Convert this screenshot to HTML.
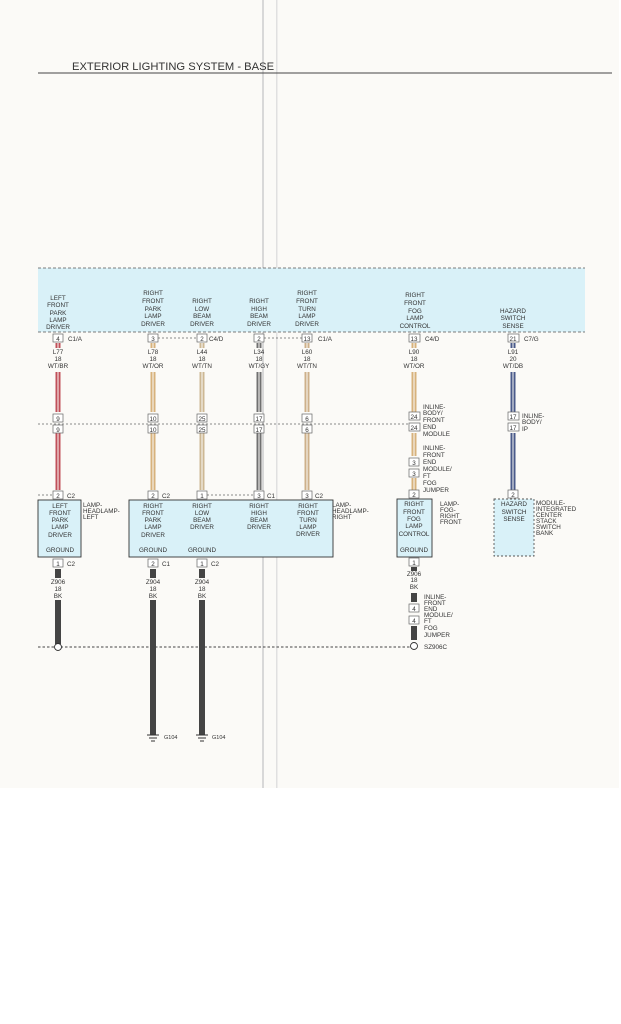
<!DOCTYPE html>
<html><head><meta charset="utf-8"><style>
html,body{margin:0;padding:0;background:#fff;}
svg{display:block;}
text{font-family:"Liberation Sans",sans-serif;fill:#333;}
.l{font-size:6.3px;text-anchor:middle;}
.s{font-size:6.3px;}
</style></head><body>
<svg width="621" height="1024" viewBox="0 0 621 1024" xmlns="http://www.w3.org/2000/svg">
<rect x="0" y="0" width="619" height="788" fill="#fbfaf7"/>
<rect x="262" y="0" width="2" height="788" fill="#d8d8d8"/>
<rect x="276" y="0" width="1.5" height="788" fill="#e0e0e0"/>
<text x="72" y="70" style="font-size:11.2px;fill:#333">EXTERIOR LIGHTING SYSTEM - BASE</text>
<line x1="38" y1="73" x2="612" y2="73" stroke="#444" stroke-width="1"/>
<rect x="38" y="268" width="547" height="64" fill="#d9f1f8"/>
<line x1="38" y1="268" x2="585" y2="268" stroke="#555" stroke-dasharray="3,2" stroke-width="0.8"/>
<line x1="38" y1="332" x2="585" y2="332" stroke="#555" stroke-dasharray="3,2" stroke-width="0.8"/>
<g class="l">
<text x="58" y="300">LEFT</text><text x="58" y="307">FRONT</text><text x="58" y="315">PARK</text><text x="58" y="322">LAMP</text><text x="58" y="329">DRIVER</text>
<text x="153" y="295">RIGHT</text><text x="153" y="303">FRONT</text><text x="153" y="311">PARK</text><text x="153" y="318">LAMP</text><text x="153" y="326">DRIVER</text>
<text x="202" y="303">RIGHT</text><text x="202" y="311">LOW</text><text x="202" y="318">BEAM</text><text x="202" y="326">DRIVER</text>
<text x="259" y="303">RIGHT</text><text x="259" y="311">HIGH</text><text x="259" y="318">BEAM</text><text x="259" y="326">DRIVER</text>
<text x="307" y="295">RIGHT</text><text x="307" y="303">FRONT</text><text x="307" y="311">TURN</text><text x="307" y="318">LAMP</text><text x="307" y="326">DRIVER</text>
<text x="415" y="297">RIGHT</text><text x="415" y="305">FRONT</text><text x="415" y="313">FOG</text><text x="415" y="320">LAMP</text><text x="415" y="328">CONTROL</text>
<text x="513" y="313">HAZARD</text><text x="513" y="320">SWITCH</text><text x="513" y="328">SENSE</text>
</g>
<g fill="#fff" stroke="#666" stroke-width="0.7">
<rect x="53" y="334" width="10" height="8"/><rect x="148" y="334" width="10" height="8"/><rect x="197" y="334" width="10" height="8"/>
<rect x="254" y="334" width="10" height="8"/><rect x="302" y="334" width="10" height="8"/><rect x="409" y="334" width="11" height="8"/><rect x="508" y="334" width="11" height="8"/>
</g>
<g stroke="#666" stroke-width="0.7" stroke-dasharray="2,2"><line x1="158" y1="338" x2="197" y2="338"/><line x1="264" y1="338" x2="302" y2="338"/></g>
<g class="l"><text x="58" y="341">4</text><text x="153" y="341">3</text><text x="202" y="341">2</text><text x="259" y="341">2</text><text x="307" y="341">13</text><text x="414" y="341">13</text><text x="513" y="341">21</text></g>
<g class="s"><text x="68" y="341">C1/A</text><text x="209" y="341">C4/D</text><text x="318" y="341">C1/A</text><text x="425" y="341">C4/D</text><text x="524" y="341">C7/G</text></g>
<g class="l">
<text x="58" y="354">L77</text><text x="58" y="361">18</text><text x="58" y="368">WT/BR</text>
<text x="153" y="354">L78</text><text x="153" y="361">18</text><text x="153" y="368">WT/OR</text>
<text x="202" y="354">L44</text><text x="202" y="361">18</text><text x="202" y="368">WT/TN</text>
<text x="259" y="354">L34</text><text x="259" y="361">18</text><text x="259" y="368">WT/GY</text>
<text x="307" y="354">L60</text><text x="307" y="361">18</text><text x="307" y="368">WT/TN</text>
<text x="414" y="354">L90</text><text x="414" y="361">18</text><text x="414" y="368">WT/OR</text>
<text x="513" y="354">L91</text><text x="513" y="361">20</text><text x="513" y="368">WT/DB</text>
</g>
<g stroke-width="5">
<path d="M58 343V348M58 372V412M58 433V490" stroke="#c0505a"/>
<path d="M153 343V348M153 372V412M153 433V490" stroke="#d7b27c"/>
<path d="M202 343V348M202 372V412M202 433V490" stroke="#cdb894"/>
<path d="M259 343V348M259 372V412M259 433V490" stroke="#707070"/>
<path d="M307 343V348M307 372V412M307 433V490" stroke="#cdb08a"/>
<path d="M414 343V348M414 372V412M414 433V456M414 478V490" stroke="#d7b27c"/>
<path d="M513 343V348M513 372V412M513 433V490" stroke="#4a5a8a"/>
</g>
<g stroke="#fbfaf7" stroke-width="1">
<path d="M58 343V348M58 372V412M58 433V490M153 343V348M153 372V412M153 433V490M202 343V348M202 372V412M202 433V490M259 343V348M259 372V412M259 433V490M307 343V348M307 372V412M307 433V490M414 343V348M414 372V412M414 433V456M414 478V490M513 343V348M513 372V412M513 433V490"/>
</g>
<line x1="38" y1="424" x2="414" y2="424" stroke="#666" stroke-width="0.7" stroke-dasharray="2,2"/>
<g fill="#fff" stroke="#666" stroke-width="0.7">
<rect x="53" y="414" width="10" height="8"/><rect x="53" y="425" width="10" height="8"/>
<rect x="148" y="414" width="10" height="8"/><rect x="148" y="425" width="10" height="8"/>
<rect x="197" y="414" width="10" height="8"/><rect x="197" y="425" width="10" height="8"/>
<rect x="254" y="414" width="10" height="8"/><rect x="254" y="425" width="10" height="8"/>
<rect x="302" y="414" width="10" height="8"/><rect x="302" y="425" width="10" height="8"/>
<rect x="409" y="412" width="11" height="8"/><rect x="409" y="423" width="11" height="8"/>
<rect x="508" y="412" width="11" height="8"/><rect x="508" y="423" width="11" height="8"/>
<rect x="409" y="458" width="10" height="8"/><rect x="409" y="469" width="10" height="8"/>
</g>
<g class="l">
<text x="58" y="421">9</text><text x="58" y="432">9</text><text x="153" y="421">10</text><text x="153" y="432">10</text>
<text x="202" y="421">25</text><text x="202" y="432">25</text><text x="259" y="421">17</text><text x="259" y="432">17</text>
<text x="307" y="421">6</text><text x="307" y="432">6</text><text x="414" y="419">24</text><text x="414" y="430">24</text>
<text x="513" y="419">17</text><text x="513" y="430">17</text><text x="414" y="465">3</text><text x="414" y="476">3</text>
</g>
<g class="s">
<text x="423" y="409">INLINE-</text><text x="423" y="415">BODY/</text><text x="423" y="422">FRONT</text><text x="423" y="429">END</text><text x="423" y="436">MODULE</text>
<text x="522" y="418">INLINE-</text><text x="522" y="424">BODY/</text><text x="522" y="431">IP</text>
<text x="423" y="450">INLINE-</text><text x="423" y="457">FRONT</text><text x="423" y="464">END</text><text x="423" y="471">MODULE/</text><text x="423" y="478">FT</text><text x="423" y="485">FOG</text><text x="423" y="492">JUMPER</text>
</g>
<g stroke="#666" stroke-width="0.7" stroke-dasharray="2,2"><line x1="38" y1="495" x2="53" y2="495"/><line x1="207" y1="495" x2="254" y2="495"/></g>
<g fill="#fff" stroke="#666" stroke-width="0.7">
<rect x="53" y="491" width="10" height="8"/><rect x="148" y="491" width="10" height="8"/><rect x="197" y="491" width="10" height="8"/>
<rect x="254" y="491" width="10" height="8"/><rect x="302" y="491" width="10" height="8"/><rect x="409" y="490" width="10" height="8"/><rect x="508" y="490" width="10" height="8"/>
</g>
<g class="l"><text x="58" y="498">2</text><text x="153" y="498">2</text><text x="202" y="498">1</text><text x="259" y="498">3</text><text x="307" y="498">3</text><text x="414" y="497">2</text><text x="513" y="497">2</text></g>
<g class="s"><text x="67" y="498">C2</text><text x="162" y="498">C2</text><text x="267" y="498">C1</text><text x="315" y="498">C2</text></g>
<g fill="#d9f1f8" stroke="#333" stroke-width="0.9">
<rect x="38" y="500" width="43" height="57"/><rect x="129" y="500" width="204" height="57"/><rect x="397" y="499" width="35" height="58"/>
</g>
<rect x="494" y="499" width="40" height="57" fill="#d9f1f8" stroke="#555" stroke-width="0.9" stroke-dasharray="2,2"/>
<g class="l">
<text x="60" y="508">LEFT</text><text x="60" y="515">FRONT</text><text x="60" y="522">PARK</text><text x="60" y="529">LAMP</text><text x="60" y="537">DRIVER</text><text x="60" y="552">GROUND</text>
<text x="153" y="508">RIGHT</text><text x="153" y="515">FRONT</text><text x="153" y="522">PARK</text><text x="153" y="529">LAMP</text><text x="153" y="537">DRIVER</text><text x="153" y="552">GROUND</text>
<text x="202" y="508">RIGHT</text><text x="202" y="515">LOW</text><text x="202" y="522">BEAM</text><text x="202" y="529">DRIVER</text><text x="202" y="552">GROUND</text>
<text x="259" y="508">RIGHT</text><text x="259" y="515">HIGH</text><text x="259" y="522">BEAM</text><text x="259" y="529">DRIVER</text>
<text x="308" y="508">RIGHT</text><text x="308" y="515">FRONT</text><text x="308" y="522">TURN</text><text x="308" y="529">LAMP</text><text x="308" y="536">DRIVER</text>
<text x="414" y="506">RIGHT</text><text x="414" y="514">FRONT</text><text x="414" y="521">FOG</text><text x="414" y="528">LAMP</text><text x="414" y="536">CONTROL</text><text x="414" y="552">GROUND</text>
<text x="514" y="506">HAZARD</text><text x="514" y="514">SWITCH</text><text x="514" y="521">SENSE</text>
</g>
<g class="s">
<text x="83" y="507">LAMP-</text><text x="83" y="513">HEADLAMP-</text><text x="83" y="519">LEFT</text>
<text x="332" y="507">LAMP-</text><text x="332" y="513">HEADLAMP-</text><text x="332" y="519">RIGHT</text>
<text x="440" y="506">LAMP-</text><text x="440" y="512">FOG-</text><text x="440" y="518">RIGHT</text><text x="440" y="524">FRONT</text>
<text x="536" y="505">MODULE-</text><text x="536" y="511">INTEGRATED</text><text x="536" y="517">CENTER</text><text x="536" y="523">STACK</text><text x="536" y="529">SWITCH</text><text x="536" y="535">BANK</text>
</g>
<g fill="#fff" stroke="#666" stroke-width="0.7">
<rect x="53" y="559" width="10" height="8"/><rect x="148" y="559" width="10" height="8"/><rect x="197" y="559" width="10" height="8"/><rect x="409" y="558" width="10" height="8"/>
<rect x="409" y="604" width="10" height="8"/><rect x="409" y="616" width="10" height="8"/>
</g>
<g class="l"><text x="58" y="566">1</text><text x="153" y="566">2</text><text x="202" y="566">1</text><text x="414" y="565">1</text><text x="414" y="611">4</text><text x="414" y="623">4</text></g>
<g class="s"><text x="67" y="566">C2</text><text x="162" y="566">C1</text><text x="211" y="566">C2</text></g>
<g fill="#444">
<rect x="55" y="569" width="6" height="9"/><rect x="150" y="569" width="6" height="9"/><rect x="199" y="569" width="6" height="9"/><rect x="411" y="567" width="6" height="4"/>
<rect x="55" y="600" width="6" height="44"/><rect x="150" y="600" width="6" height="135"/><rect x="199" y="600" width="6" height="135"/>
<rect x="411" y="593" width="6" height="9"/><rect x="411" y="626" width="6" height="14"/>
</g>
<g class="l">
<text x="58" y="584">Z906</text><text x="58" y="591">18</text><text x="58" y="598">BK</text>
<text x="153" y="584">Z904</text><text x="153" y="591">18</text><text x="153" y="598">BK</text>
<text x="202" y="584">Z904</text><text x="202" y="591">18</text><text x="202" y="598">BK</text>
<text x="414" y="576">Z906</text><text x="414" y="582">18</text><text x="414" y="589">BK</text>
</g>
<g class="s">
<text x="424" y="599">INLINE-</text><text x="424" y="605">FRONT</text><text x="424" y="611">END</text><text x="424" y="617">MODULE/</text><text x="424" y="623">FT</text><text x="424" y="630">FOG</text><text x="424" y="637">JUMPER</text>
<text x="424" y="649">SZ906C</text>
</g>
<line x1="38" y1="647" x2="410" y2="647" stroke="#444" stroke-width="1" stroke-dasharray="2.5,2"/>
<circle cx="58" cy="647" r="3.5" fill="#fff" stroke="#333" stroke-width="0.9"/>
<circle cx="414" cy="646" r="3.5" fill="#fff" stroke="#333" stroke-width="0.9"/>
<g stroke="#333" stroke-width="1">
<path d="M147 735H159M149 738H157M151 741H155"/><path d="M196 735H208M198 738H206M200 741H204"/>
</g>
<g class="s" style="font-size:5.5px"><text x="164" y="739">G104</text><text x="212" y="739">G104</text></g>
</svg>
</body></html>
